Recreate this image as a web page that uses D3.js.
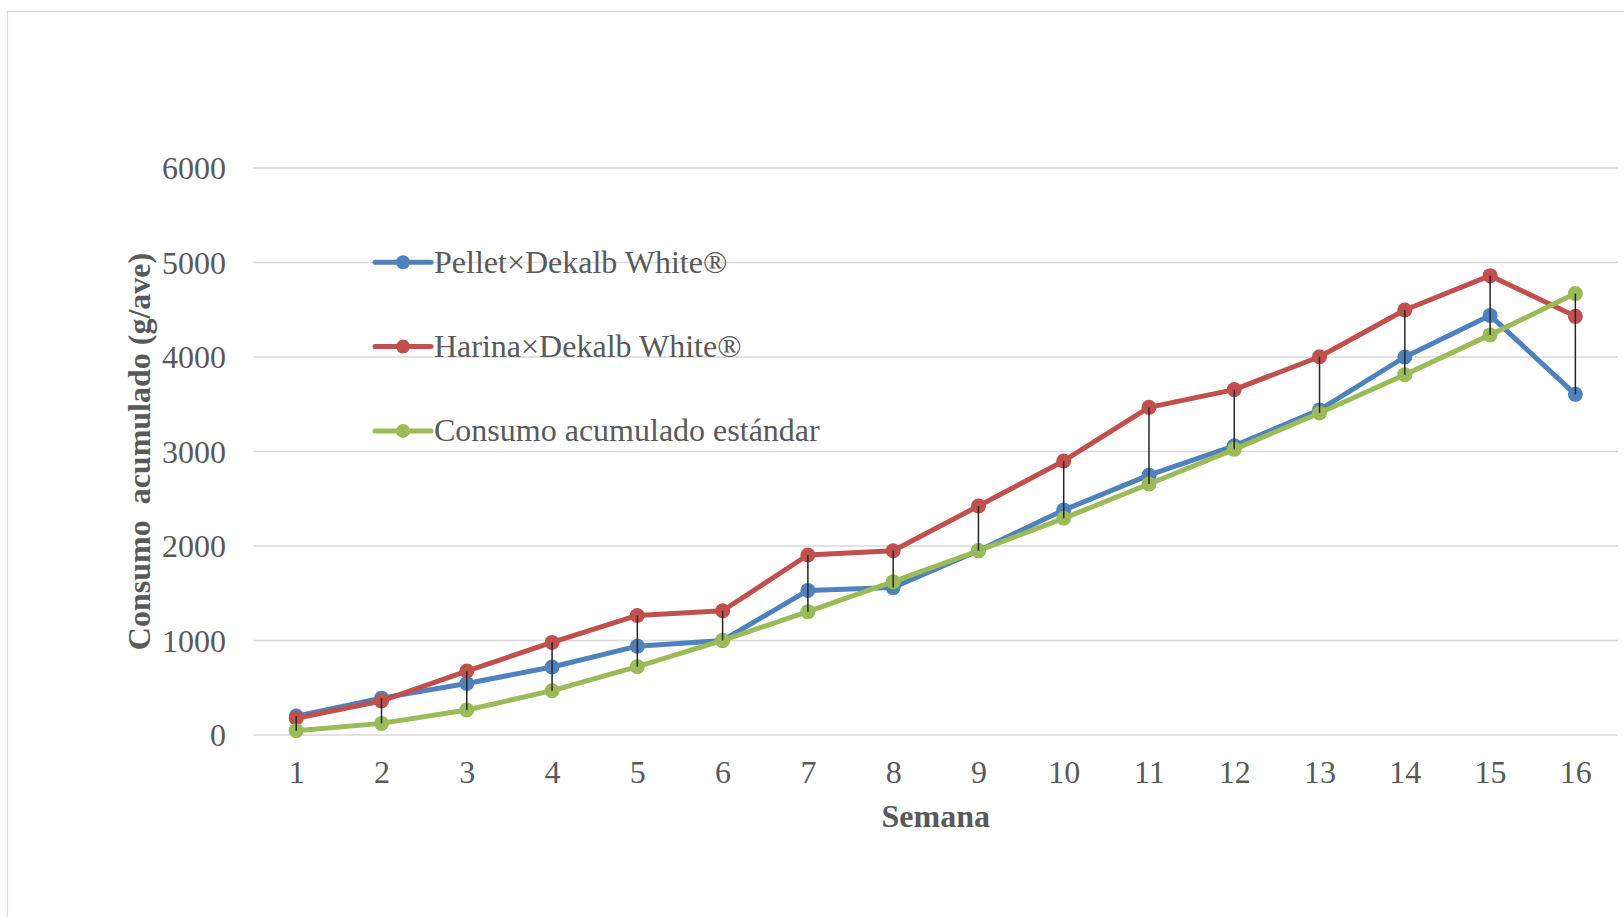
<!DOCTYPE html>
<html>
<head>
<meta charset="utf-8">
<script src="https://cdn.jsdelivr.net/npm/d3@7"></script>
<style>
  html, body { margin: 0; padding: 0; background: #ffffff; }
  svg { display: block; }
  text { font-family: "Liberation Serif", "Times New Roman", serif; fill: #595959; }
</style>
</head>
<body>
<svg id="chart" width="1624" height="917"></svg>
<script>
// Weeks (category axis)
const semanas = [1, 2, 3, 4, 5, 6, 7, 8, 9, 10, 11, 12, 13, 14, 15, 16];

// Cumulative feed intake, g/bird
const pellet   = [200, 390, 545, 720, 940, 1000, 1530, 1560, 1950, 2380, 2750, 3060, 3440, 4000, 4440, 3605];
const harina   = [178, 360, 677, 980, 1265, 1315, 1905, 1950, 2423, 2900, 3467, 3655, 4003, 4497, 4861, 4430];
const estandar = [46, 123, 265, 469, 723, 1002, 1305, 1622, 1950, 2293, 2656, 3023, 3407, 3813, 4234, 4671];

const seriesNames = ["Pellet×Dekalb White®", "Harina×Dekalb White®", "Consumo acumulado estándar"];
const seriesColors = ["#4F81BD", "#C0504D", "#9BBB59"];
const yTicks = [0, 1000, 2000, 3000, 4000, 5000, 6000];

const series = [pellet, harina, estandar].map((vals, i) => ({
  name: seriesNames[i],
  color: seriesColors[i],
  values: vals.map((v, j) => ({ semana: semanas[j], v }))
}));

const svg = d3.select("#chart");

// Outer chart frame
svg.append("rect")
  .attr("x", 7.5).attr("y", 11.5)
  .attr("width", 1700).attr("height", 1000)
  .attr("fill", "none").attr("stroke", "#d9d9d9").attr("stroke-width", 1.2);

const plot = { left: 253.6, right: 1618, top: 168, bottom: 735 };

const x = d3.scalePoint()
  .domain(semanas)
  .range([plot.left, plot.right])
  .padding(0.5);

const y = d3.scaleLinear()
  .domain([0, 6000])
  .range([plot.bottom, plot.top]);

// Horizontal gridlines
svg.append("g")
  .selectAll("line")
  .data(yTicks)
  .join("line")
  .attr("x1", plot.left).attr("x2", plot.right)
  .attr("y1", d => y(d)).attr("y2", d => y(d))
  .attr("stroke", "#d9d9d9").attr("stroke-width", 1.5);

// Y axis labels
const yAxis = d3.axisLeft(y).tickValues(yTicks).tickFormat(d3.format("d")).tickSize(0).tickPadding(0);
svg.append("g")
  .attr("transform", "translate(226,0)")
  .call(yAxis)
  .call(g => g.select(".domain").remove())
  .call(g => g.selectAll("text")
    .attr("font-family", "Liberation Serif")
    .attr("font-size", 32)
    .attr("fill", "#595959")
    .attr("dy", "0.34em"));

// X axis labels
const xAxis = d3.axisBottom(x).tickSize(0).tickPadding(0);
svg.append("g")
  .attr("transform", `translate(0,${plot.bottom})`)
  .call(xAxis)
  .call(g => g.select(".domain").remove())
  .call(g => g.selectAll("text")
    .attr("font-family", "Liberation Serif")
    .attr("font-size", 32)
    .attr("fill", "#595959")
    .attr("y", 48)
    .attr("dy", 0));

// Axis titles
svg.append("text")
  .attr("x", (plot.left + plot.right) / 2)
  .attr("y", 827)
  .attr("text-anchor", "middle")
  .attr("font-size", 32)
  .attr("font-weight", "bold")
  .text("Semana");

svg.append("text")
  .attr("transform", `translate(150,${(plot.top + plot.bottom) / 2}) rotate(-90)`)
  .attr("text-anchor", "middle")
  .attr("font-size", 32)
  .attr("font-weight", "bold")
  .attr("xml:space", "preserve")
  .style("white-space", "pre")
  .text("Consumo  acumulado (g/ave)");

// Series lines and markers
const line = d3.line().x(d => x(d.semana)).y(d => y(d.v));

const sg = svg.append("g")
  .selectAll("g")
  .data(series)
  .join("g");

sg.append("path")
  .attr("d", d => line(d.values))
  .attr("fill", "none")
  .attr("stroke", d => d.color)
  .attr("stroke-width", 5)
  .attr("stroke-linejoin", "round");

sg.selectAll("circle")
  .data(d => d.values.map(p => ({ ...p, color: d.color })))
  .join("circle")
  .attr("cx", d => x(d.semana))
  .attr("cy", d => y(d.v))
  .attr("r", 7.5)
  .attr("fill", d => d.color);

// High-low lines between the series at each week
const hiLo = semanas.map((s, i) => {
  const vals = [pellet[i], harina[i], estandar[i]];
  return { semana: s, lo: d3.min(vals), hi: d3.max(vals) };
});

svg.append("g")
  .selectAll("line")
  .data(hiLo)
  .join("line")
  .attr("x1", d => x(d.semana)).attr("x2", d => x(d.semana))
  .attr("y1", d => y(d.hi)).attr("y2", d => y(d.lo))
  .attr("stroke", "#262626").attr("stroke-width", 1.5);

// Legend
const legend = svg.append("g")
  .selectAll("g")
  .data(series)
  .join("g")
  .attr("transform", (d, i) => `translate(375,${262.3 + i * 84.3})`);

legend.append("line")
  .attr("x1", 0).attr("x2", 56)
  .attr("stroke", d => d.color).attr("stroke-width", 5)
  .attr("stroke-linecap", "round");

legend.append("circle")
  .attr("cx", 28).attr("r", 7)
  .attr("fill", d => d.color);

legend.append("text")
  .attr("x", 59)
  .attr("y", 10.5)
  .attr("font-size", 32)
  .text(d => d.name);
</script>
</body>
</html>
